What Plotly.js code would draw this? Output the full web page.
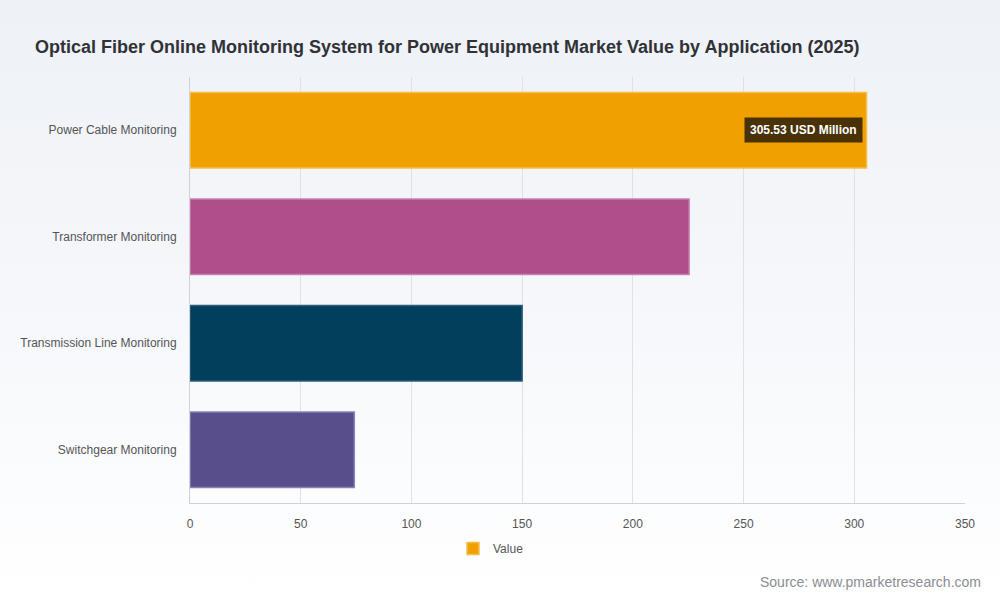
<!DOCTYPE html>
<html>
<head>
<meta charset="utf-8">
<script src="https://cdn.plot.ly/plotly-3.0.1.min.js"></script>
<style>
html,body{margin:0;padding:0;width:1000px;height:600px;overflow:hidden;}
body{background:linear-gradient(to bottom,#eef1f6 0%,#f6f8fb 55%,#ffffff 100%);}
#chart{width:1000px;height:600px;}
</style>
</head>
<body>
<div id="chart"></div>
<script>
const categories = ["Power Cable Monitoring","Transformer Monitoring","Transmission Line Monitoring","Switchgear Monitoring"];
const values = [305.53, 225.4, 150.0, 74.2];
const barColors = ["#F0A000","#AF4E8A","#023F5C","#574E8B"];
const lineColors = ["#F5BE4A","#C97FAE","#2C5F78","#8A83B5"];
const xTicks = [0,50,100,150,200,250,300,350];
const seriesName = "Value";
const highlightLabel = "305.53 USD Million";
const sourceText = "Source: www.pmarketresearch.com";

const trace = {
  type: "bar",
  orientation: "h",
  y: categories,
  x: values,
  name: seriesName,
  marker: {color: barColors, line: {color: lineColors, width: 1.5}},
  width: 0.71,
  showlegend: true,
  hoverinfo: "x+y"
};

const layout = {
  width: 1000, height: 600,
  paper_bgcolor: "rgba(0,0,0,0)",
  plot_bgcolor: "rgba(0,0,0,0)",
  font: {family: "Liberation Sans, Arial, sans-serif", color: "#555", size: 12},
  margin: {l: 190, r: 35, t: 77, b: 97},
  title: {
    text: "<b>Optical Fiber Online Monitoring System for Power Equipment Market Value by Application (2025)</b>",
    font: {size: 18, color: "#2f3237", family: "Liberation Sans, Arial, sans-serif"},
    xref: "container", x: 0.035, xanchor: "left",
    yref: "container", y: 0.923, yanchor: "middle"
  },
  xaxis: {
    range: [0, 350],
    tickvals: xTicks,
    ticktext: xTicks.map(String),
    showgrid: true, gridcolor: "#dfe1e6", gridwidth: 1,
    zeroline: false,
    showline: true, linecolor: "#cfd2d8", linewidth: 1,
    ticks: "", ticklen: 0, ticklabelstandoff: 10,
    tickfont: {size: 12, color: "#555"}
  },
  yaxis: {
    autorange: "reversed",
    showgrid: false, zeroline: false,
    showline: true, linecolor: "#cfd2d8", linewidth: 1,
    ticks: "", ticklabelstandoff: 10,
    tickfont: {size: 12, color: "#555"}
  },
  legend: {
    orientation: "h",
    xref: "container", x: 0.491, xanchor: "center",
    yref: "container", y: 0.086, yanchor: "middle",
    font: {size: 12, color: "#555"},
    bgcolor: "rgba(0,0,0,0)"
  },
  annotations: [
    {
      xref: "x", yref: "y",
      x: values[0], y: categories[0],
      xshift: -4,
      xanchor: "right", yanchor: "middle",
      text: "<b>" + highlightLabel + "</b>",
      showarrow: false,
      font: {size: 12, color: "#ffffff"},
      bgcolor: "#4a3207",
      borderpad: 5
    },
    {
      xref: "paper", yref: "paper",
      x: 1.023, y: -0.185, xanchor: "right", yanchor: "middle",
      text: sourceText,
      showarrow: false,
      font: {size: 14, color: "#8a8d93"}
    }
  ]
};

Plotly.newPlot("chart", [trace], layout, {displayModeBar: false, staticPlot: true});
</script>
</body>
</html>
